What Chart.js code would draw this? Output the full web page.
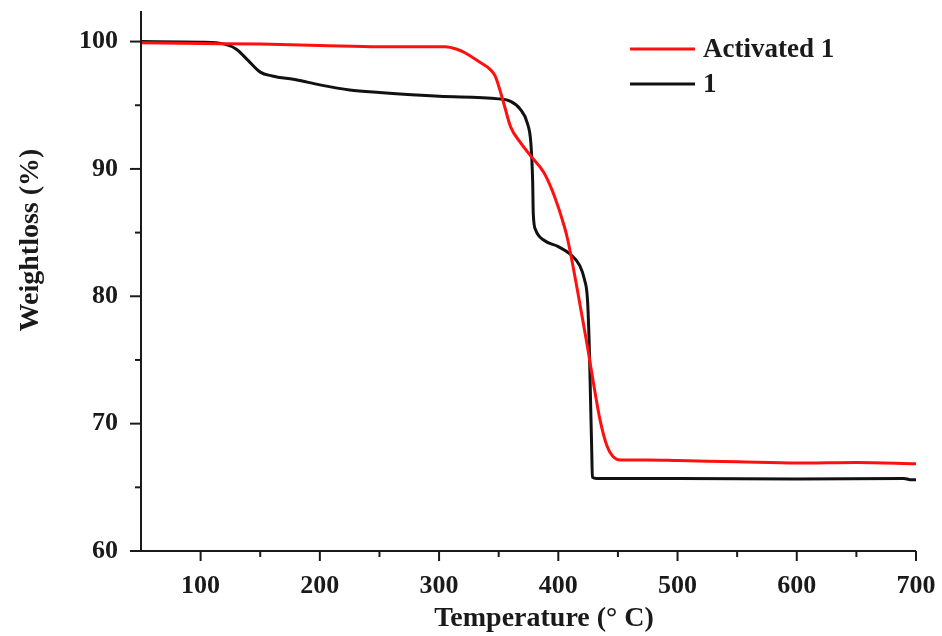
<!DOCTYPE html>
<html>
<head>
<meta charset="utf-8">
<script src="https://cdn.jsdelivr.net/npm/chart.js@4.4.1/dist/chart.umd.min.js"></script>
<style>
  html, body { margin: 0; padding: 0; background: #fff; }
  #wrap { width: 942px; height: 636px; }
</style>
</head>
<body>
<div id="wrap"><canvas id="tga"></canvas></div>
<script>
// TGA curves, temperature in °C vs remaining weight in %
const activatedTemp = [50, 100, 150, 200, 250, 305, 315, 322, 333, 343, 347, 351, 355, 360, 368, 377, 388, 397, 405, 408, 416, 424, 430, 435, 441, 446, 452, 475, 500, 550, 600, 650, 700];
const activatedWeight = [99.9, 99.85, 99.8, 99.7, 99.6, 99.6, 99.4, 99.1, 98.45, 97.8, 97.3, 96.2, 94.9, 93.3, 92.1, 91.0, 89.7, 87.8, 85.5, 84.4, 80.5, 76.3, 72.9, 70.3, 68.2, 67.4, 67.15, 67.15, 67.1, 67.0, 66.9, 66.95, 66.85];

const rawTemp = [50, 100, 120, 130, 140, 150, 160, 180, 200, 225, 250, 300, 350, 360, 368, 374, 377, 378.5, 379, 381, 388, 400, 410, 418, 422, 424.5, 426, 427, 428, 428.6, 432, 500, 600, 690, 695, 700];
const rawWeight = [100, 99.95, 99.8, 99.4, 98.5, 97.6, 97.3, 97.0, 96.6, 96.2, 96.0, 95.7, 95.5, 95.3, 94.7, 93.6, 92.0, 89.0, 86.5, 85.2, 84.4, 83.9, 83.3, 82.4, 81.3, 79.7, 76.0, 72.0, 68.0, 65.8, 65.7, 65.7, 65.65, 65.7, 65.6, 65.6];

const xMajorTicks = [100, 200, 300, 400, 500, 600, 700];
const xMinorTicks = [150, 250, 350, 450, 550, 650];
const yMajorTicks = [60, 70, 80, 90, 100];
const yMinorTicks = [65, 75, 85, 95];

const FONT = '"Liberation Serif", "Times New Roman", serif';
const toPoints = (xs, ys) => xs.map((t, i) => ({ x: t, y: ys[i] }));

// axis lines, outward ticks, axis titles and the legend
const frame = {
  id: 'frame',
  afterDraw(chart) {
    const { ctx, chartArea: a, scales: { x, y } } = chart;
    ctx.save();
    ctx.strokeStyle = '#1a1a1a';
    ctx.lineWidth = 2;
    ctx.beginPath();
    ctx.moveTo(a.left, a.top);
    ctx.lineTo(a.left, a.bottom);
    ctx.lineTo(a.right, a.bottom);
    ctx.stroke();

    const tick = (x1, y1, x2, y2) => { ctx.beginPath(); ctx.moveTo(x1, y1); ctx.lineTo(x2, y2); ctx.stroke(); };
    xMajorTicks.forEach(v => { const p = x.getPixelForValue(v); tick(p, a.bottom, p, a.bottom + 10); });
    xMinorTicks.forEach(v => { const p = x.getPixelForValue(v); tick(p, a.bottom, p, a.bottom + 6); });
    yMajorTicks.forEach(v => { const p = y.getPixelForValue(v); tick(a.left - 11, p, a.left, p); });
    yMinorTicks.forEach(v => { const p = y.getPixelForValue(v); tick(a.left - 6, p, a.left, p); });

    ctx.fillStyle = '#1a1a1a';
    ctx.font = 'bold 28px ' + FONT;
    ctx.textAlign = 'center';
    ctx.textBaseline = 'middle';
    ctx.fillText('Temperature (° C)', 544, 619);
    ctx.translate(31, 240);
    ctx.rotate(-Math.PI / 2);
    ctx.fillText('Weightloss (%)', 0, 0);
    ctx.restore();

    // legend
    ctx.save();
    ctx.font = 'bold 27px ' + FONT;
    ctx.textAlign = 'left';
    ctx.textBaseline = 'middle';
    chart.data.datasets.forEach((ds, i) => {
      const ly = 49 + i * 35;
      ctx.strokeStyle = ds.borderColor;
      ctx.lineWidth = 3;
      ctx.beginPath();
      ctx.moveTo(630, ly);
      ctx.lineTo(695, ly);
      ctx.stroke();
      ctx.fillStyle = '#1a1a1a';
      ctx.fillText(ds.label, 703, ly + 1);
    });
    ctx.restore();
  }
};

new Chart(document.getElementById('tga'), {
  type: 'line',
  data: {
    datasets: [
      {
        label: 'Activated 1',
        data: toPoints(activatedTemp, activatedWeight),
        borderColor: '#ff1010',
        borderWidth: 3,
        pointRadius: 0,
        cubicInterpolationMode: 'monotone'
      },
      {
        label: '1',
        data: toPoints(rawTemp, rawWeight),
        borderColor: '#111111',
        borderWidth: 3,
        pointRadius: 0,
        cubicInterpolationMode: 'monotone'
      }
    ]
  },
  options: {
    responsive: true,
    maintainAspectRatio: false,
    animation: false,
    layout: { padding: { top: 11, right: 26, left: 0, bottom: 0 } },
    plugins: {
      legend: { display: false },
      tooltip: { enabled: false }
    },
    scales: {
      x: {
        type: 'linear',
        min: 50,
        max: 700,
        grid: { display: false },
        border: { display: false },
        afterBuildTicks: s => { s.ticks = xMajorTicks.map(v => ({ value: v })); },
        afterFit: s => { s.height = 85; s.paddingLeft = 0; s.paddingRight = 0; },
        ticks: {
          padding: 12,
          color: '#1a1a1a',
          maxRotation: 0,
          font: { family: FONT, size: 26, weight: 'bold' }
        }
      },
      y: {
        min: 60,
        max: 102.4,
        grid: { display: false },
        border: { display: false },
        afterBuildTicks: s => { s.ticks = yMajorTicks.map(v => ({ value: v })); },
        afterFit: s => { s.width = 141; s.paddingTop = 0; s.paddingBottom = 0; },
        ticks: {
          padding: 15,
          color: '#1a1a1a',
          font: { family: FONT, size: 26, weight: 'bold' }
        }
      }
    }
  },
  plugins: [frame]
});
</script>
</body>
</html>
